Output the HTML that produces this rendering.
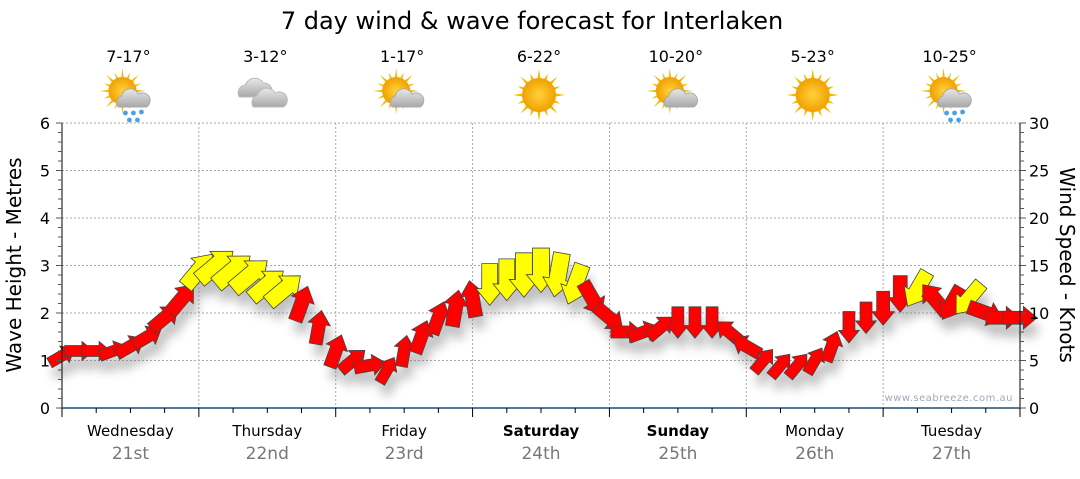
<!DOCTYPE html>
<html><head><meta charset="utf-8"><style>
body{margin:0;background:#fff;width:1080px;height:475px;overflow:hidden;font-family:"DejaVu Sans","Liberation Sans",sans-serif}
svg text{font-family:"DejaVu Sans","Liberation Sans",sans-serif}
</style></head><body>
<svg id="chart" width="1080" height="475" xmlns="http://www.w3.org/2000/svg">
<defs>
<filter id="shadow" x="-50%" y="-50%" width="200%" height="200%"><feGaussianBlur stdDeviation="5"/></filter>
<radialGradient id="sun" cx="50%" cy="50%" r="50%"><stop offset="0" stop-color="#ffd23a"/><stop offset="1" stop-color="#f0a000"/></radialGradient>
<linearGradient id="cloud" x1="0" y1="0" x2="0" y2="1"><stop offset="0" stop-color="#e8e8e8"/><stop offset="1" stop-color="#a8a8a8"/></linearGradient>
</defs>
<text x="532" y="29" text-anchor="middle" font-size="24" fill="#000">7 day wind &amp; wave forecast for Interlaken</text>
<g id="icons"></g>
<g id="grid"></g>
<g id="shadows" filter="url(#shadow)" opacity="0.4"></g>
<g id="arrows"></g>
<g id="axes"></g>
<text x="1013" y="401" text-anchor="end" font-size="10" fill="#a0a8b8" letter-spacing="0.5">www.seabreeze.com.au</text>
<text transform="translate(21,265) rotate(-90)" text-anchor="middle" font-size="20" fill="#000">Wave Height - Metres</text>
<text transform="translate(1060,265) rotate(90)" text-anchor="middle" font-size="20" fill="#000">Wind Speed - Knots</text>
</svg>
<script>
const days=["Wednesday","Thursday","Friday","Saturday","Sunday","Monday","Tuesday"];
const dates=["21st","22nd","23rd","24th","25th","26th","27th"];
const boldDays=[false,false,false,true,true,false,false];
const temps=["7-17°","3-12°","1-17°","6-22°","10-20°","5-23°","10-25°"];
const weather=["sunrain","cloud","suncloud","sun","suncloud","sun","sunrain"];
const waveTicks=[0,1,2,3,4,5,6];
const windTicks=[0,5,10,15,20,25,30];
// 3-hourly samples
const waveHeight=[1.1,1.2,1.2,1.2,1.3,1.5,1.9,2.3,2.9,3.0,2.9,2.8,2.6,2.5,2.2,1.7,1.2,1.0,0.9,0.8,1.2,1.5,1.9,2.1,2.3,2.6,2.7,2.8,2.9,2.8,2.6,2.3,1.9,1.6,1.6,1.7,1.8,1.8,1.8,1.6,1.3,1.0,0.9,0.9,1.0,1.3,1.7,1.9,2.1,2.4,2.5,2.3,2.2,2.3,2.0,1.9,1.9];
const windDir=[-30,0,0,-20,-30,-30,-40,-50,-50,-40,-40,-40,-40,-40,-70,-80,-70,-40,-10,-60,-80,-70,-70,-80,-100,90,90,90,90,100,110,60,40,0,-20,-40,90,90,90,-140,-150,-50,-50,-50,-60,-70,90,90,90,90,120,-130,120,130,20,0,0];
const windSpeed=[8,8,8,8,9,9,10,11,13,14,14,14,13,13,11,10,10,9,9,8,9,10,10,11,11,13,13,14,14,14,13,11,10,9,9,9,9,9,9,9,9,8,8,8,8,9,9,9,10,11,12,11,11,12,11,10,10];

const X0=62,X1=1020,Y0=408,Y1=123;
const dayW=(X1-X0)/7;
const NS='http://www.w3.org/2000/svg';
function xs(i){return X0+i*dayW/8;}
function yWave(v){return Y0-(v/6)*(Y0-Y1);}
function yWind(v){return Y0-(v/30)*(Y0-Y1);}
function mk(tag,attrs,parent){const e=document.createElementNS(NS,tag);for(const k in attrs)e.setAttribute(k,attrs[k]);parent.appendChild(e);return e;}
const grid=document.getElementById('grid'),axes=document.getElementById('axes'),arrows=document.getElementById('arrows'),shadows=document.getElementById('shadows'),icons=document.getElementById('icons');

waveTicks.forEach(v=>{if(v>0){const l=mk('line',{x1:X0,x2:X1,y1:yWave(v),y2:yWave(v),stroke:'#aaa','stroke-dasharray':'2,2'},grid);

}});
for(let d=1;d<7;d++){const l=mk('line',{x1:X0+d*dayW,x2:X0+d*dayW,y1:Y1,y2:Y0,stroke:'#aaa','stroke-dasharray':'2,2'},grid);

}

let a=mk('line',{x1:X0,x2:X0,y1:Y1,y2:Y0+8,stroke:'#000'},axes);


a=mk('line',{x1:X1,x2:X1,y1:Y1,y2:Y0,stroke:'#000'},axes);


a=mk('line',{x1:X0,x2:X1,y1:Y0,y2:Y0,stroke:'#1a4f7a','stroke-width':1.5},axes);


for(let m=0;m<=30;m++){const y=Y0-m*(Y0-Y1)/30;mk('line',{x1:X0-(m%5==0?6:4),x2:X0,y1:y,y2:y,stroke:'#555'},axes);mk('line',{x1:X1,x2:X1+(m%5==0?6:4),y1:y,y2:y,stroke:'#555'},axes);}
waveTicks.forEach(v=>{const t=mk('text',{x:50,y:yWave(v)+6,'text-anchor':'end','font-size':16,fill:'#000'},axes);t.textContent=v;

});
windTicks.forEach(v=>{const t=mk('text',{x:1029,y:yWind(v)+6,'text-anchor':'start','font-size':16,fill:'#000'},axes);t.textContent=v;

});
for(let k=0;k<=28;k++){const x=X0+k*dayW/4;mk('line',{x1:x,x2:x,y1:Y0,y2:Y0+(k%4==0?9:5),stroke:'#000'},axes);}
days.forEach((d,i)=>{const cx=X0+(i+0.5)*dayW;
const t=mk('text',{x:cx,y:436,'text-anchor':'middle','font-size':15,fill:'#000','font-weight':boldDays[i]?'bold':'normal'},axes);t.textContent=d;


const t2=mk('text',{x:cx,y:459,'text-anchor':'middle','font-size':17,fill:'#777'},axes);t2.textContent=dates[i];


const t3=mk('text',{x:cx-2,y:62,'text-anchor':'middle','font-size':16,fill:'#000'},icons);t3.textContent=temps[i];


const g=mk('g',{transform:`translate(${cx-2},95)`},icons);


const w=weather[i];
if(w!='cloud'){const sx=w=='sun'?0:-6,sy=w=='sun'?0:-4,r=w=='sun'?17:14;
for(let k=0;k<16;k++){const ang=k*Math.PI/8;mk('polygon',{points:`${sx+Math.cos(ang-0.12)*(r-2)},${sy+Math.sin(ang-0.12)*(r-2)} ${sx+Math.cos(ang)*(r+(k%2?6:9))},${sy+Math.sin(ang)*(r+(k%2?6:9))} ${sx+Math.cos(ang+0.12)*(r-2)},${sy+Math.sin(ang+0.12)*(r-2)}`,fill:'#f5b800'},g);}
mk('circle',{cx:sx,cy:sy,r:r,fill:'url(#sun)'},g);}
if(w=='cloud'){mk('path',{d:'M-26,2 a8,8 0 0,1 6,-12 a10,10 0 0,1 18,-2 a8,8 0 0,1 6,14 z',fill:'url(#cloud)',stroke:'#bbb'},g);
mk('path',{d:'M-12,12 a8,8 0 0,1 4,-12 a10,10 0 0,1 18,-2 a8,8 0 0,1 8,14 z',fill:'url(#cloud)',stroke:'#bbb'},g);}
if(w=='suncloud'||w=='sunrain'){mk('path',{d:'M-10,12 a7,7 0 0,1 3,-11 a9,9 0 0,1 17,-2 a7,7 0 0,1 8,13 z',fill:'url(#cloud)',stroke:'#aaa'},g);}
if(w=='sunrain'){[[-3,18],[5,18],[13,17],[1,25],[9,25]].forEach(p=>mk('circle',{cx:p[0],cy:p[1],r:2.4,fill:'#4aa3e0'},g));}
});

waveHeight.forEach((h,i)=>{
const L=windSpeed[i]*2.6+8,bw=L*0.19,hw=L*0.33,hl=L*0.4;
const pts=`${-L/2},${-bw} ${L/2-hl},${-bw} ${L/2-hl},${-hw} ${L/2},0 ${L/2-hl},${hw} ${L/2-hl},${bw} ${-L/2},${bw}`;
const x=xs(i),y=yWave(h);
const s=mk('polygon',{points:pts,fill:'#666',transform:`translate(${x+4},${y+12}) rotate(${windDir[i]})`},shadows);


const p=mk('polygon',{points:pts,fill:windSpeed[i]>=12?'#ffff00':'#ff0000',stroke:'#444','stroke-width':0.8,transform:`translate(${x},${y}) rotate(${windDir[i]})`},arrows);


});
</script>
</body></html>
